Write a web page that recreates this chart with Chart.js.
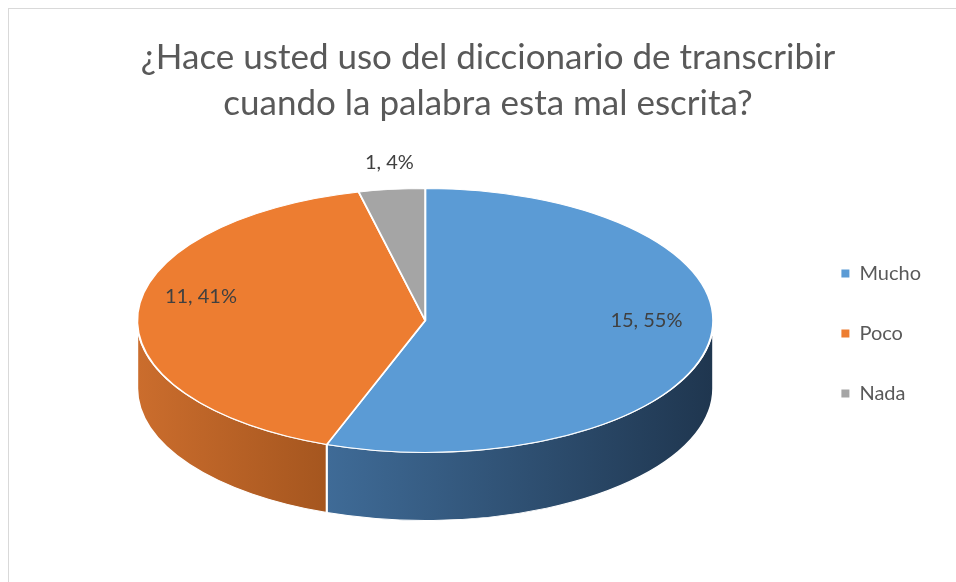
<!DOCTYPE html>
<html>
<head>
<meta charset="utf-8">
<script src="https://cdn.jsdelivr.net/npm/chart.js@4.4.1/dist/chart.umd.min.js"></script>
<style>
    html, body { margin: 0; padding: 0; background: #fff; }
    #frame { position: absolute; left: 8px; top: 8px; width: 980px; height: 600px; border: 1px solid #d9d9d9; }
    #wrap { position: absolute; left: 0; top: 0; width: 956px; height: 582px; }
</style>
</head>
<body>
<div id="frame"></div>
<div id="wrap"><canvas id="chart"></canvas></div>
<script>
const TITLE = ["¿Hace usted uso del diccionario de transcribir", "cuando la palabra esta mal escrita?"];
const CATEGORIES = ["Mucho", "Poco", "Nada"];
const COUNTS = [15, 11, 1];
const PERCENTS = [55, 41, 4];

const TOP_COLORS = ["#5b9bd5", "#ed7d31", "#a5a5a5"];
// left -> right shading of the front wall
const SIDE_COLORS = [["#3f6b97", "#1f364f"], ["#cb6d2d", "#a5561f"], ["#8a8a8a", "#6d6d6d"]];
const LABEL_OUTSIDE = [false, false, true];

Chart.defaults.font.family = "Lato, 'Open Sans', sans-serif";

// Fake 3D: squash the pie vertically and draw a wall under the front half.
const TILT = 132 / 288;
const DEPTH = 68;
const NUDGE = { x: 2, y: -13 };
const LABEL_LIFT = -18;

function pieGeom(chart) {
    const arcs = chart.getDatasetMeta(0).data;
    return { arcs, cx: arcs[0].x, cy: arcs[0].y, r: arcs[0].outerRadius };
}

const pie3d = {
    id: "pie3d",
    beforeDatasetsDraw(chart) {
        const ctx = chart.ctx;
        const { arcs, cx, cy, r } = pieGeom(chart);
        ctx.save();
        ctx.translate(cx + NUDGE.x, cy + NUDGE.y);
        ctx.scale(1, TILT);
        ctx.translate(-cx, -cy);
        const d = DEPTH / TILT;
        arcs.forEach((arc, i) => {
            const s = arc.startAngle, e = arc.endAngle;
            for (const off of [0, 2 * Math.PI]) {
                const lo = Math.max(s, off), hi = Math.min(e, off + Math.PI);
                if (hi <= lo) continue;
                const xs = [cx + r * Math.cos(lo), cx + r * Math.cos(hi)];
                if (lo <= off && hi >= off) xs.push(cx + r);
                if (lo <= off + Math.PI && hi >= off + Math.PI) xs.push(cx - r);
                const g = ctx.createLinearGradient(Math.min(...xs), 0, Math.max(...xs), 0);
                g.addColorStop(0, SIDE_COLORS[i][0]);
                g.addColorStop(1, SIDE_COLORS[i][1]);
                ctx.beginPath();
                ctx.arc(cx, cy, r, lo, hi);
                ctx.arc(cx, cy + d, r, hi, lo, true);
                ctx.closePath();
                ctx.fillStyle = g;
                ctx.fill();
                ctx.lineWidth = 2;
                ctx.strokeStyle = "#ffffff";
                ctx.stroke();
            }
        });
    },
    afterDatasetsDraw(chart) {
        const ctx = chart.ctx;
        ctx.restore();
        const { arcs, cx, cy, r } = pieGeom(chart);
        const values = chart.data.datasets[0].data;
        ctx.save();
        ctx.font = "20px Lato, 'Open Sans', sans-serif";
        ctx.fillStyle = "#404040";
        ctx.textAlign = "center";
        ctx.textBaseline = "middle";
        arcs.forEach((arc, i) => {
            const mid = (arc.startAngle + arc.endAngle) / 2;
            const f = LABEL_OUTSIDE[i] ? 1.07 : 0.78;
            const x = cx + NUDGE.x + Math.cos(mid) * r * f;
            const y = cy + NUDGE.y + LABEL_LIFT + Math.sin(mid) * r * f * TILT;
            ctx.fillText(values[i] + ", " + PERCENTS[i] + "%", x, y);
        });
        ctx.restore();
    },
};

const legendLabels = (chart) =>
    Chart.overrides.pie.plugins.legend.labels.generateLabels(chart)
        .map(l => ({ ...l, lineWidth: 0, strokeStyle: "rgba(0,0,0,0)" }));

new Chart(document.getElementById("chart"), {
    type: "pie",
    data: {
        labels: CATEGORIES,
        datasets: [{
            data: COUNTS,
            backgroundColor: TOP_COLORS,
            borderColor: "#ffffff",
            borderWidth: 2,
            radius: 288,
            clip: false,
        }],
    },
    options: {
        responsive: true,
        maintainAspectRatio: false,
        animation: false,
        events: [],
        layout: { padding: { left: 45, right: 25, top: 0, bottom: 66 } },
        plugins: {
            title: {
                display: true,
                text: TITLE,
                color: "#595959",
                font: { size: 35, weight: "normal", lineHeight: 1.3 },
                padding: { top: 35, bottom: 25 },
            },
            legend: {
                position: "right",
                fullSize: false,
                labels: {
                    boxWidth: 8,
                    boxHeight: 8,
                    padding: 40,
                    color: "#595959",
                    font: { size: 20 },
                    generateLabels: legendLabels,
                },
            },
            tooltip: { enabled: false },
        },
    },
    plugins: [pie3d],
});
</script>
</body>
</html>
